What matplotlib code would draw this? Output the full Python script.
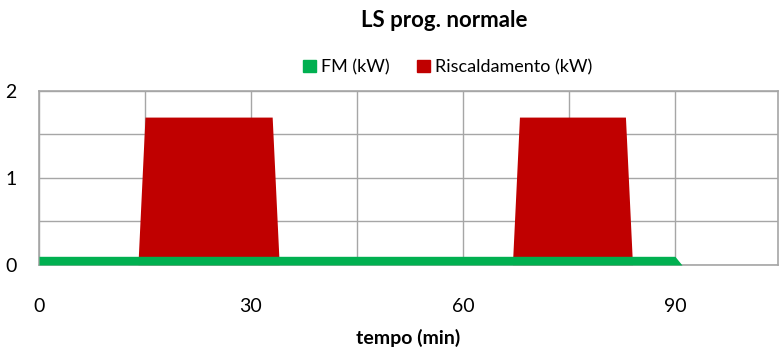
import matplotlib
matplotlib.use("Agg")
import matplotlib.pyplot as plt
from matplotlib.patches import Patch

plt.rcParams['font.family'] = ['Lato', 'DejaVu Sans']

title = "LS prog. normale"
xlabel = "tempo (min)"
fm_label = "FM (kW)"
heat_label = "Riscaldamento (kW)"

fm_time = [0, 90, 91]
fm_kw = [0.1, 0.1, 0.0]

heat_time = [0, 14, 15, 33, 34, 67, 68, 83, 84, 105]
heat_kw = [0, 0, 1.7, 1.7, 0, 0, 1.7, 1.7, 0, 0]

xticks = [0, 30, 60, 90]
yticks = [0, 1, 2]

green = "#00b050"
red = "#c00000"
grid = "#a6a6a6"

fig = plt.figure(figsize=(7.8, 3.54), dpi=100)
ax = fig.add_axes([0.05, 0.2514, 0.9475, 0.4916])

ax.fill_between(heat_time, heat_kw, 0, color=red, lw=0, zorder=2)
ax.fill_between(fm_time, fm_kw, 0, color=green, lw=0, zorder=3)

ax.set_xlim(0, 104.6)
ax.set_ylim(0, 2)
ax.set_xticks(xticks)
ax.set_xticks(range(0, 105, 15), minor=True)
ax.set_yticks(yticks)
ax.set_yticks([0.5, 1.5], minor=True)
ax.grid(True, which='both', color=grid, lw=1, zorder=0)
ax.set_axisbelow(True)
ax.tick_params(which='both', length=0)
ax.tick_params(axis='x', pad=24, labelsize=14)
ax.tick_params(axis='y', pad=16, labelsize=14)
for s in ax.spines.values():
    s.set_color(grid)
    s.set_linewidth(1.2)

ax.set_xlabel(xlabel, fontsize=14, fontweight='bold', labelpad=10)
fig.text(0.570, 0.943, title, ha='center', va='center', fontsize=16, fontweight='bold')
handles = [Patch(color=green, label=fm_label), Patch(color=red, label=heat_label)]
fig.legend(handles=handles, loc='center', bbox_to_anchor=(0.574, 0.81), ncol=2,
           frameon=False, fontsize=13, handlelength=0.7, handleheight=0.7,
           handletextpad=0.3, columnspacing=1.5)

fig.savefig("out.png", dpi=100)
